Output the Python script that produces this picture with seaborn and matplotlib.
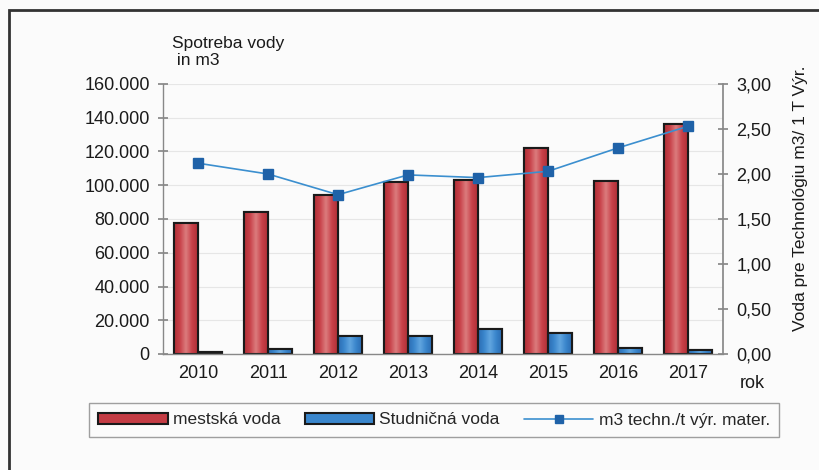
import matplotlib
matplotlib.use("Agg")
import matplotlib.pyplot as plt
import seaborn as sns
import pandas as pd
import numpy as np
from matplotlib.patches import Rectangle
from matplotlib.lines import Line2D
from matplotlib.colors import LinearSegmentedColormap

years = ["2010", "2011", "2012", "2013", "2014", "2015", "2016", "2017"]
mestska_voda = [77500, 84300, 94200, 101700, 103100, 122300, 102500, 136300]
studnicna_voda = [1400, 3000, 10800, 10800, 14800, 12600, 3700, 2500]
m3_techn = [2.12, 2.00, 1.77, 1.99, 1.96, 2.03, 2.29, 2.53]

left_ticks = [0, 20000, 40000, 60000, 80000, 100000, 120000, 140000, 160000]
left_tick_labels = ["0", "20.000", "40.000", "60.000", "80.000", "100.000", "120.000", "140.000", "160.000"]
right_ticks = [0, 0.5, 1.0, 1.5, 2.0, 2.5, 3.0]
right_tick_labels = ["0,00", "0,50", "1,00", "1,50", "2,00", "2,50", "3,00"]

series_names = ["mestská voda", "Studničná voda"]
line_name = "m3 techn./t výr. mater."

sns.set_theme(style="white")
plt.rcParams['font.family'] = ['Liberation Sans', 'DejaVu Sans']

df = pd.DataFrame({
    "rok": years * 2,
    "value": mestska_voda + studnicna_voda,
    "typ": [series_names[0]] * len(years) + [series_names[1]] * len(years),
})

red = "#c43c44"
blue = "#3a86cc"
red_cmap = LinearSegmentedColormap.from_list("r", ["#b02f36", "#c8424a", "#dc7c7e", "#c8424a", "#b02f36"])
blue_cmap = LinearSegmentedColormap.from_list("b", ["#2c6cb2", "#3a86cc", "#62a6e0", "#3a86cc", "#2c6cb2"])

fig = plt.figure(figsize=(8.19, 4.70), dpi=100)
fig.patch.set_facecolor("#fbfbfb")
ax = fig.add_axes([163 / 819, 1 - 354 / 470, (723 - 163) / 819, (354 - 84) / 470])
ax.set_facecolor("none")

sns.barplot(data=df, x="rok", y="value", hue="typ", palette=[red, blue], saturation=1,
            width=0.68, edgecolor="#1a1a1a", linewidth=1.5, ax=ax, legend=False)

ax.set_ylim(0, 160000)
ax.set_xlim(-0.5, len(years) - 0.5)

# horizontal gradient fill inside each bar
grad = np.linspace(0, 1, 64).reshape(1, -1)
for p in list(ax.patches):
    fc = p.get_facecolor()
    cmap = red_cmap if fc[0] > fc[2] else blue_cmap
    x0, y0 = p.get_x(), p.get_y()
    w, h = p.get_width(), p.get_height()
    if h <= 0:
        continue
    im = ax.imshow(grad, cmap=cmap, aspect="auto", extent=(x0, x0 + w, y0, y0 + h),
                   zorder=p.get_zorder() + 0.1, interpolation="bilinear")
    im.set_clip_path(p)
    edge = Rectangle((x0, y0), w, h, fill=False, edgecolor="#1a1a1a", linewidth=1.5,
                     zorder=p.get_zorder() + 0.2)
    ax.add_patch(edge)
ax.set_ylim(0, 160000)
ax.set_xlim(-0.5, len(years) - 0.5)
ax.set_aspect("auto")

ax.set_yticks(left_ticks)
ax.set_yticklabels(left_tick_labels)
ax.set_xticks(range(len(years)))
ax.set_xticklabels(years)
ax.set_xlabel("")
ax.set_ylabel("")
ax.yaxis.grid(True, color="#e6e6e6", linewidth=0.8)
ax.set_axisbelow(True)
for s in ["top", "right"]:
    ax.spines[s].set_visible(False)
for s in ["left", "bottom"]:
    ax.spines[s].set_color("#888888")
    ax.spines[s].set_linewidth(1.0)
ax.set_xticks(np.arange(-0.5, len(years) + 0.5, 1), minor=True)
ax.tick_params(axis="x", which="major", length=0, labelsize=13, pad=8, colors="#1a1a1a")
ax.tick_params(axis="x", which="minor", length=8, direction="inout", color="#888888")
ax.tick_params(axis="y", length=7, direction="inout", color="#888888", labelsize=13, pad=6, labelcolor="#1a1a1a")

ax2 = ax.twinx()
ax2.plot(np.arange(len(years)), m3_techn, color="#3b8fcf", linewidth=1.2,
         marker="s", markersize=7, markerfacecolor="#1f62a8", markeredgecolor="#1f62a8")
ax2.set_ylim(0, 3.0)
ax2.set_yticks(right_ticks)
ax2.set_yticklabels(right_tick_labels)
for s in ["top", "left", "bottom"]:
    ax2.spines[s].set_visible(False)
ax2.spines["right"].set_color("#888888")
ax2.tick_params(axis="y", length=7, direction="inout", color="#888888", labelsize=13, pad=6, labelcolor="#1a1a1a")
ax2.grid(False)

fig.text(172 / 819, 1 - 52 / 470, "Spotreba vody\n in m3", fontsize=12.5, ha="left", va="center",
         color="#1a1a1a", linespacing=1.1)
fig.text(801 / 819, 1 - 198 / 470, "Voda pre Technológiu m3/ 1 T Výr.", fontsize=12.5, rotation=90,
         ha="center", va="center", color="#1a1a1a")
fig.text(752 / 819, 1 - 383 / 470, "rok", fontsize=13, ha="center", va="center", color="#1a1a1a")

# frame
fig.add_artist(Rectangle((9 / 819, -0.1), 1.1, 1 - 10 / 470 + 0.1, transform=fig.transFigure,
                         fill=False, edgecolor="#333333", linewidth=2))

handles = [
    Rectangle((0, 0), 1, 1, facecolor=red, edgecolor="#1a1a1a", linewidth=1.5),
    Rectangle((0, 0), 1, 1, facecolor=blue, edgecolor="#1a1a1a", linewidth=1.5),
    Line2D([0], [0], color="#3b8fcf", linewidth=1.2, marker="s", markersize=6,
           markerfacecolor="#1f62a8", markeredgecolor="#1f62a8"),
]
leg = fig.legend(handles, series_names + [line_name], loc="center",
                 bbox_to_anchor=(434 / 819, 1 - 420 / 470), ncol=3, fontsize=12.5,
                 frameon=True, fancybox=False, edgecolor="#888888", handlelength=4.0,
                 handleheight=0.6, columnspacing=1.4, handletextpad=0.3, borderpad=0.55)
leg.get_frame().set_linewidth(1.0)
leg.get_frame().set_facecolor("#fbfbfb")

fig.savefig("out.png", dpi=100, facecolor=fig.get_facecolor())
